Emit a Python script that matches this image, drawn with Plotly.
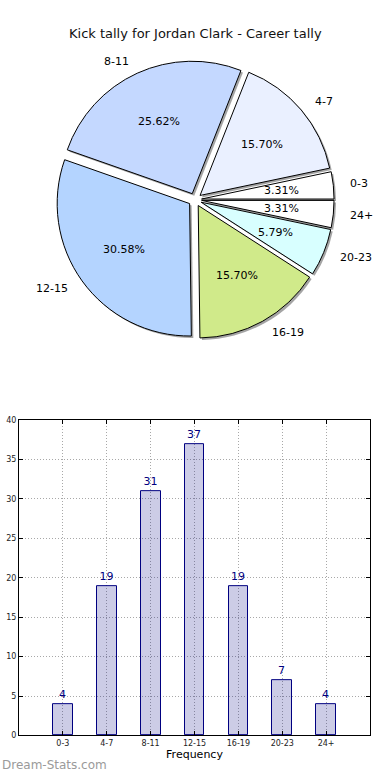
import math
import plotly.graph_objects as go

# ---- data ----
categories = ["0-3", "4-7", "8-11", "12-15", "16-19", "20-23", "24+"]
kicks = [4, 19, 31, 37, 19, 7, 4]
slice_colors = ["#ffffff", "#eaf0ff", "#c4d8ff", "#b4d4ff", "#d0ea8a", "#d8ffff", "#ffffff"]
y_ticks = [0, 5, 10, 15, 20, 25, 30, 35, 40]
title_text = "Kick tally for Jordan Clark - Career tally"
x_title = "Frequency"
watermark = "Dream-Stats.com"

# ---- layout geometry (pixels) ----
W, H = 390, 780
cx, cy, R = 195, 198, 134
PULL = 0.05
box = 2 * R * (1 + PULL)
FONT = "DejaVu Sans"


def px_x(p):
    return p / W


def px_y(p):
    return 1 - p / H


total = sum(kicks)
# plotly's counterclockwise mode ends the first slice at `rotation`;
# shift so the first slice starts at 3 o'clock (matplotlib style)
rot = 90 - 360.0 * kicks[0] / total

pie_dom_x = [px_x(cx - box / 2), px_x(cx + box / 2)]
pie_dom_y = [px_y(cy + box / 2), px_y(cy - box / 2)]
sh = 2.0
shadow_dom_x = [px_x(cx - box / 2 + sh), px_x(cx + box / 2 + sh)]
shadow_dom_y = [px_y(cy + box / 2 + sh), px_y(cy - box / 2 + sh)]

fig = go.Figure()

# shadow pie
fig.add_trace(go.Pie(
    labels=categories, values=kicks, sort=False, direction="counterclockwise",
    rotation=rot, pull=[PULL] * len(kicks), textinfo="none", hoverinfo="skip",
    marker=dict(colors=["rgba(90,90,90,0.55)"] * len(kicks), line=dict(width=0)),
    domain=dict(x=shadow_dom_x, y=shadow_dom_y), showlegend=False,
))
# main pie
fig.add_trace(go.Pie(
    labels=categories, values=kicks, sort=False, direction="counterclockwise",
    rotation=rot, pull=[PULL] * len(kicks), textinfo="none",
    marker=dict(colors=slice_colors, line=dict(color="black", width=1)),
    domain=dict(x=pie_dom_x, y=pie_dom_y), showlegend=False,
))

annotations = []
cum = 0.0
for cat, v in zip(categories, kicks):
    frac = v / total
    theta = 2 * math.pi * (cum + frac / 2)
    cum += frac
    dx, dy = math.cos(theta), math.sin(theta)
    ex = cx + PULL * R * dx
    ey = cy - PULL * R * dy
    lx, ly = ex + 1.1 * R * dx, ey - 1.1 * R * dy
    annotations.append(dict(
        x=px_x(lx), y=px_y(ly), xref="paper", yref="paper", text=cat,
        showarrow=False, xanchor="left" if dx > 0 else "right", yanchor="middle",
        font=dict(family=FONT, size=11, color="black")))
    tx, ty = ex + 0.6 * R * dx, ey - 0.6 * R * dy
    annotations.append(dict(
        x=px_x(tx), y=px_y(ty), xref="paper", yref="paper",
        text=f"{100 * v / total:.2f}%", showarrow=False,
        xanchor="center", yanchor="middle",
        font=dict(family=FONT, size=11, color="black")))

annotations.append(dict(
    x=0.5, y=px_y(30), xref="paper", yref="paper", text=title_text,
    showarrow=False, xanchor="center", yanchor="middle",
    font=dict(family=FONT, size=13, color="#111")))

annotations.append(dict(
    x=0, y=px_y(770), xref="paper", yref="paper", text=watermark,
    showarrow=False, xanchor="left", yanchor="middle",
    font=dict(family=FONT, size=12, color="#9a9a9a")))

# bar chart
xpos = list(range(len(categories)))
fig.add_trace(go.Bar(
    x=xpos, y=kicks, width=0.45, text=[str(k) for k in kicks],
    textposition="outside", cliponaxis=False,
    textfont=dict(family=FONT, size=11, color="#000080"),
    marker=dict(color="rgba(0,0,128,0.2)", line=dict(color="#000080", width=1)),
    xaxis="x", yaxis="y", showlegend=False,
))

axis_common = dict(
    showline=True, linecolor="black", linewidth=1, mirror="ticks",
    ticks="inside", ticklen=4, tickcolor="black",
    showgrid=True, gridcolor="#a8a8a8", griddash="1px,2px", gridwidth=1,
    zeroline=False, tickfont=dict(family=FONT, size=8, color="#222"),
)

fig.update_layout(
    width=W, height=H, margin=dict(l=0, r=0, t=0, b=0),
    paper_bgcolor="white", plot_bgcolor="white",
    font=dict(family=FONT),
    xaxis=dict(domain=[px_x(19), px_x(370)], range=[-1, len(categories)],
               tickvals=xpos, ticktext=categories,
               title=dict(text=x_title, font=dict(family=FONT, size=11, color="black"), standoff=2),
               **axis_common),
    yaxis=dict(domain=[px_y(740), px_y(421)], range=[0, 40], tickvals=y_ticks,
               **axis_common),
    annotations=annotations,
    bargap=0,
)

fig.write_html(
    "out.html",
    config={"displayModeBar": False},
    post_script=(
        "document.documentElement.style.margin='0px';"
        "document.body.style.margin='0px';"
        "document.body.style.overflow='hidden';"
        "document.documentElement.style.overflow='hidden';"
    ),
)
